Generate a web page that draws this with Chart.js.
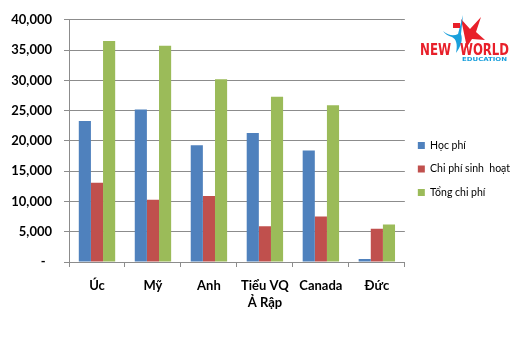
<!DOCTYPE html>
<html>
<head>
<meta charset="utf-8">
<script src="https://cdn.jsdelivr.net/npm/chart.js@4"></script>
<style>
  body { margin: 0; background: #fff; }
  #wrap { position: relative; width: 520px; height: 344px; }
  #logo { position: absolute; left: 416px; top: 12px; }
</style>
</head>
<body>
<div id="wrap">
  <canvas id="chart-chiphi" width="520" height="344"></canvas>
  <svg id="logo" width="100" height="54" viewBox="0 0 100 54">
    <polygon points="50,31 45,7 54,17 65,5 60,20 69,28 56,27 47,41" fill="#e8202a"/>
    <path d="M27,19 C33,24 38,24 42,22 L47,3 L45,22 C47,28 45,34 40,41 C42,32 40,27 36,25 C32,24 29,22 27,19 Z" fill="#1aa0dc"/>
    <rect x="37" y="11" width="7" height="5" fill="#e8202a"/>
    <text x="4" y="43" font-family="Liberation Sans Narrow, DejaVu Sans Condensed, sans-serif" font-weight="bold" font-size="15" fill="#e8202a" textLength="31" lengthAdjust="spacingAndGlyphs">NEW</text>
    <text x="44" y="43" font-family="Liberation Sans Narrow, DejaVu Sans Condensed, sans-serif" font-weight="bold" font-size="15" fill="#e8202a" textLength="49" lengthAdjust="spacingAndGlyphs">WORLD</text>
    <text x="46" y="49" font-family="Liberation Sans Narrow, DejaVu Sans Condensed, sans-serif" font-weight="bold" font-size="5.5" fill="#1aa0dc" textLength="45" lengthAdjust="spacingAndGlyphs">EDUCATION</text>
  </svg>
</div>
<script>
let quocGia = ['Úc', 'Mỹ', 'Anh', ['Tiểu VQ', 'Ả Rập'], 'Canada', 'Đức']
let hocPhi = [23300, 25200, 19300, 21300, 18400, 500]
let chiPhiSinhHoat = [13100, 10300, 10900, 5900, 7500, 5500]
let tongChiPhi = [36500, 35700, 30200, 27300, 25900, 6200]
let mocTruc = [0, 5000, 10000, 15000, 20000, 25000, 30000, 35000, 40000]

new Chart(document.getElementById('chart-chiphi'),
    {
        type : 'bar',
        data : {
            labels : quocGia,
            datasets : [
                { label : 'Học phí', data : hocPhi, backgroundColor : '#4f81bd' },
                { label : 'Chi phí sinh  hoạt', data : chiPhiSinhHoat, backgroundColor : '#c0504d' },
                { label : 'Tổng chi phí', data : tongChiPhi, backgroundColor : '#9bbb59' }
            ]
        },
        options : {
            responsive : false,
            animation : false,
            layout : {
                padding : { top : 13, left : 10, right : 0, bottom : 19 }
            },
            datasets : {
                bar : { categoryPercentage : 0.65, barPercentage : 1 }
            },
            scales : {
                x : {
                    afterFit : function(axis){
                        axis.height = 63
                    },
                    grid : { drawOnChartArea : false, tickLength : 5, color : '#8c8c8c' },
                    border : { color : '#8c8c8c' },
                    ticks : {
                        color : '#000',
                        padding : 10,
                        maxRotation : 0,
                        font : { family : 'Lato', size : 13, weight : 'bold', lineHeight : 1.3 }
                    }
                },
                y : {
                    min : 0,
                    max : 40000,
                    afterFit : function(axis){
                        axis.width = 59
                    },
                    afterBuildTicks : function(axis){
                        axis.ticks = mocTruc.map(v => ({ value : v }))
                    },
                    grid : { color : '#8c8c8c', tickLength : 5 },
                    border : { color : '#8c8c8c' },
                    ticks : {
                        color : '#000',
                        padding : 12,
                        font : { family : 'Lato', size : 13, weight : 'bold' },
                        callback : function(v){
                            return v === 0 ? '-  ' : v.toLocaleString('en-US')
                        }
                    }
                }
            },
            plugins : {
                tooltip : { enabled : false },
                legend : {
                    position : 'right',
                    labels : {
                        boxWidth : 7,
                        boxHeight : 7,
                        padding : 13,
                        color : '#000',
                        font : { family : 'Lato', size : 10.5 }
                    },
                    onClick : function(e){
                        null
                    }
                }
            }
        }
    }
)
</script>
</body>
</html>
